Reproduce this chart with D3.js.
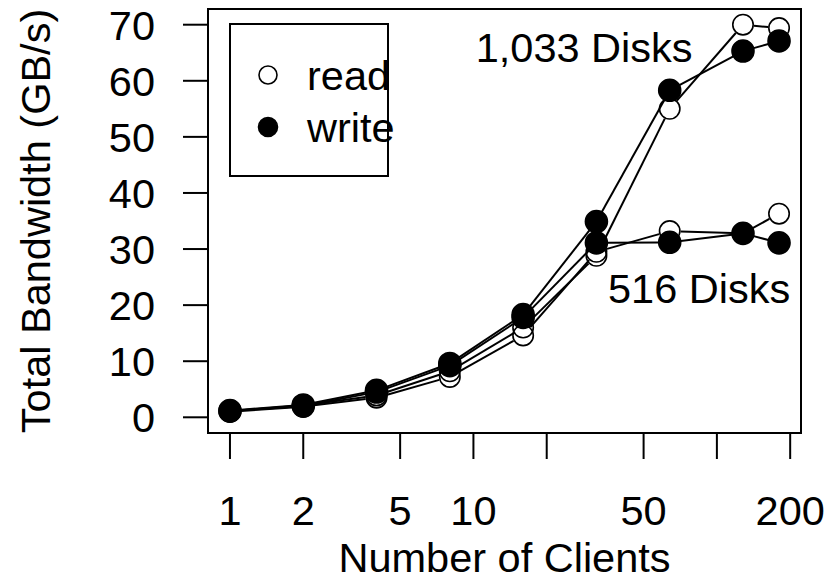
<!DOCTYPE html>
<html>
<head>
<meta charset="utf-8">
<script src="https://cdn.jsdelivr.net/npm/d3@7"></script>
<style>
  html, body { margin: 0; padding: 0; background: #fff; }
  svg text { font-family: "Liberation Sans", Arial, Helvetica, sans-serif; fill: #000; }
</style>
</head>
<body>
<svg id="chart" width="831" height="581"></svg>
<script>
// Number of clients on the (log) x axis
const clients = [1, 2, 4, 8, 16, 32, 64, 128, 180];

// Total bandwidth in GB/s
const read1033  = [1.1, 2.1, 3.9, 8.2, 16.0, 28.8, 55.0, 70.0, 69.4];
const write1033 = [1.2, 2.2, 4.8, 9.6, 18.3, 34.9, 58.3, 65.3, 67.1];
const read516   = [1.0, 1.9, 3.5, 7.2, 14.6, 29.5, 33.2, 32.8, 36.3];
const write516  = [1.1, 2.0, 4.5, 9.2, 17.8, 31.1, 31.2, 32.8, 31.1];

// Axis ticks and labels
const xTicks = [1, 2, 5, 10, 20, 50, 100, 200];
const xTickLabels = ["1", "2", "5", "10", "", "50", "", "200"];
const yTicks = [0, 10, 20, 30, 40, 50, 60, 70];

const series = [
  { name: "read",  values: read1033,  filled: false },
  { name: "write", values: write1033, filled: true  },
  { name: "read",  values: read516,   filled: false },
  { name: "write", values: write516,  filled: true  }
];

const svg = d3.select("#chart");
const FS = 41.5;
const box = { left: 208, right: 801, top: 9, bottom: 433 };

// R-style 4% padding on both axes
const lx0 = Math.log10(d3.min(clients)), lx1 = Math.log10(d3.max(clients));
const padX = 0.04 * (lx1 - lx0);
const x = d3.scaleLog()
  .domain([Math.pow(10, lx0 - padX), Math.pow(10, lx1 + padX)])
  .range([box.left, box.right]);
const y = d3.scaleLinear()
  .domain([0 - 0.04 * 70, 70 + 0.04 * 70])
  .range([box.bottom, box.top]);

// Plot frame
svg.append("rect")
  .attr("x", box.left).attr("y", box.top)
  .attr("width", box.right - box.left).attr("height", box.bottom - box.top)
  .attr("fill", "none").attr("stroke", "#000").attr("stroke-width", 2);

// X axis
const xAxis = svg.append("g");
xAxis.selectAll("line").data(xTicks).join("line")
  .attr("x1", d => x(d)).attr("x2", d => x(d))
  .attr("y1", box.bottom).attr("y2", box.bottom + 26)
  .attr("stroke", "#000").attr("stroke-width", 2);
xAxis.selectAll("text").data(xTicks).join("text")
  .attr("x", d => x(d)).attr("y", 525)
  .attr("text-anchor", "middle").attr("font-size", FS)
  .text((d, i) => xTickLabels[i]);

// Y axis
const yAxis = svg.append("g");
yAxis.selectAll("line").data(yTicks).join("line")
  .attr("x1", box.left - 25).attr("x2", box.left)
  .attr("y1", d => y(d)).attr("y2", d => y(d))
  .attr("stroke", "#000").attr("stroke-width", 2);
yAxis.selectAll("text").data(yTicks).join("text")
  .attr("x", 155).attr("y", d => y(d))
  .attr("dy", "0.36em")
  .attr("text-anchor", "end").attr("font-size", FS)
  .text(d => d);

// Axis titles
svg.append("text")
  .attr("x", (box.left + box.right) / 2).attr("y", 572)
  .attr("text-anchor", "middle").attr("font-size", FS)
  .text("Number of Clients");
svg.append("text")
  .attr("transform", `translate(50,${(box.top + box.bottom) / 2}) rotate(-90)`)
  .attr("text-anchor", "middle").attr("font-size", FS)
  .text("Total Bandwidth (GB/s)");

// Lines with gaps around the points, then the points
const R = 11;
const plot = svg.append("g");
series.forEach(s => {
  const pts = clients.map((c, i) => [x(c), y(s.values[i])]);
  const segs = d3.pairs(pts).map(([a, b]) => {
    const dx = b[0] - a[0], dy = b[1] - a[1];
    const len = Math.hypot(dx, dy);
    const ux = dx / len, uy = dy / len;
    return len > 2 * R ? [a[0] + ux * R, a[1] + uy * R, b[0] - ux * R, b[1] - uy * R] : null;
  }).filter(Boolean);
  plot.append("g").selectAll("line").data(segs).join("line")
    .attr("x1", d => d[0]).attr("y1", d => d[1])
    .attr("x2", d => d[2]).attr("y2", d => d[3])
    .attr("stroke", "#000").attr("stroke-width", 2);
  plot.append("g").selectAll("circle").data(pts).join("circle")
    .attr("cx", d => d[0]).attr("cy", d => d[1])
    .attr("r", s.filled ? R : R - 0.8)
    .attr("fill", s.filled ? "#000" : "none")
    .attr("stroke", "#000").attr("stroke-width", 1.6);
});

// Annotations for the two disk configurations
svg.append("text")
  .attr("x", x(28.5)).attr("y", y(63.3))
  .attr("text-anchor", "middle").attr("font-size", FS)
  .text("1,033 Disks");
svg.append("text")
  .attr("x", x(84.5)).attr("y", y(20.4))
  .attr("text-anchor", "middle").attr("font-size", FS)
  .text("516 Disks");

// Legend
const lg = svg.append("g");
lg.append("rect")
  .attr("x", 230).attr("y", 24).attr("width", 158).attr("height", 152)
  .attr("fill", "#fff").attr("stroke", "#000").attr("stroke-width", 2);
const legendItems = [
  { label: "read",  filled: false, cy: 75 },
  { label: "write", filled: true,  cy: 127 }
];
legendItems.forEach(it => {
  lg.append("circle")
    .attr("cx", 268).attr("cy", it.cy)
    .attr("r", it.filled ? 9.5 : 9)
    .attr("fill", it.filled ? "#000" : "none")
    .attr("stroke", "#000").attr("stroke-width", 1.6);
  lg.append("text")
    .attr("x", 307).attr("y", it.cy + 15)
    .attr("font-size", FS)
    .text(it.label);
});
</script>
</body>
</html>
